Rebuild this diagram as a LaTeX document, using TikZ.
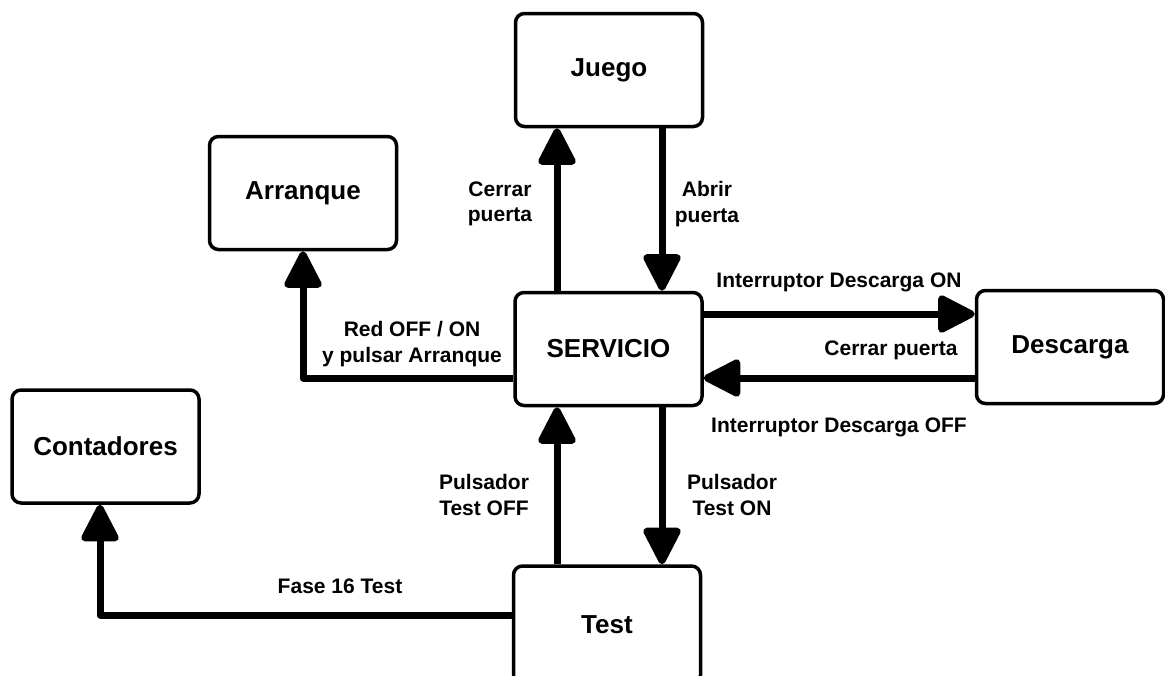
\documentclass[tikz,border=0pt]{standalone}
\usepackage{fontspec}
\setmainfont{Liberation Sans}
\usetikzlibrary{arrows.meta}
\begin{document}
\begin{tikzpicture}[x=1pt,y=-1pt,
  state/.style={draw, line width=3.5pt, rounded corners=9pt, minimum width=187pt, minimum height=113pt,
    font=\fontsize{26}{30}\selectfont\bfseries, inner sep=0pt},
  conn/.style={line width=7pt, line join=round, -{Triangle[length=41pt,width=40pt,round]}},
  lbl/.style={font=\fontsize{21}{25.5}\selectfont\bfseries, align=center, inner sep=0pt}]
\useasboundingbox[fill=white] (0,0) rectangle (1165,675);
% states
\node[state] (juego) at (609,70) {Juego};
\node[state] (arr) at (303,193) {Arranque};
\node[state] (serv) at (608.5,349) {SERVICIO};
\node[state] (desc) at (1070,347) {Descarga};
\node[state] (cont) at (105.5,446.5) {Contadores};
\node[state, minimum height=118pt] (test) at (607,625) {Test};
% guide coordinates
\coordinate (xl) at (557,0);
\coordinate (xr) at (662,0);
\coordinate (yt) at (0,314);
\coordinate (yb) at (0,378);
\coordinate (yf) at (0,615);
\coordinate (xc) at (100,0);
% connectors
\draw[conn] (serv.north -| xl) -- (juego.south -| xl);
\draw[conn] (juego.south -| xr) -- (serv.north -| xr);
\draw[conn] (serv.east |- yt) -- (desc.west |- yt);
\draw[conn] (desc.west |- yb) -- (serv.east |- yb);
\draw[conn] (serv.west |- yb) -| (arr.south);
\draw[conn] (test.north -| xl) -- (serv.south -| xl);
\draw[conn] (serv.south -| xr) -- (test.north -| xr);
\draw[conn] (test.west |- yf) -| (cont.south -| xc);
% labels
\node[lbl] (l1) at (500,204) {Cerrar\\puerta};
\node[lbl] (l2) at (707,204) {Abrir\\puerta};
\node[lbl] (l3) at (412,344) {Red OFF / ON\\y pulsar Arranque};
\node[lbl] (l4) at (839,282) {Interruptor Descarga ON};
\node[lbl] (l5) at (891,350) {Cerrar puerta};
\node[lbl] (l6) at (839,427) {Interruptor Descarga OFF};
\node[lbl] (l7) at (484,495) {Pulsador\\Test OFF};
\node[lbl] (l8) at (732,495) {Pulsador\\Test ON};
\node[lbl] (l9) at (340,586) {Fase 16 Test};
\end{tikzpicture}
\end{document}
